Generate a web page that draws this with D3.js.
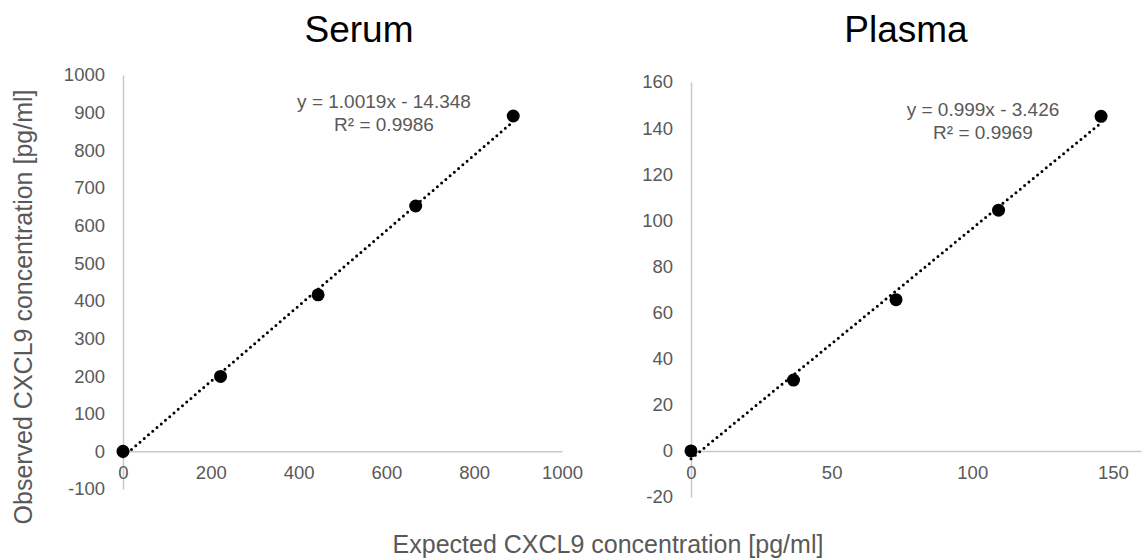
<!DOCTYPE html>
<html>
<head>
<meta charset="utf-8">
<script src="https://cdn.jsdelivr.net/npm/d3@7"></script>
<style>
  html, body { margin: 0; padding: 0; background: #fff; }
  svg { display: block; font-family: "Liberation Sans", Arial, sans-serif; }
</style>
</head>
<body>
<svg id="chart" width="1146" height="560"></svg>
<script>
// ---- Data ----
const serumExpected = [0, 222.2, 444.4, 666.7, 888.9];
const serumObserved = [0, 199, 416, 652, 891];
const serumTrend = [1.0019, -14.348];            // slope, intercept
const serumLabels = ["y = 1.0019x - 14.348", "R² = 0.9986"];
const serumXTicks = [0, 200, 400, 600, 800, 1000];
const serumYTicks = [-100, 0, 100, 200, 300, 400, 500, 600, 700, 800, 900, 1000];

const plasmaExpected = [0, 36.45, 72.9, 109.35, 145.8];
const plasmaObserved = [0, 30.7, 65.6, 104.4, 145.1];
const plasmaTrend = [0.999, -3.426];
const plasmaLabels = ["y = 0.999x - 3.426", "R² = 0.9969"];
const plasmaXTicks = [0, 50, 100, 150];
const plasmaYTicks = [-20, 0, 20, 40, 60, 80, 100, 120, 140, 160];

const titles = ["Serum", "Plasma"];
const xAxisTitle = "Expected CXCL9 concentration [pg/ml]";
const yAxisTitle = "Observed CXCL9 concentration [pg/ml]";

// ---- Layout ----
const svg = d3.select("#chart");
const grey = "#595959";
const axisColor = "#c8c8c8";
const fmt = d => String(d);   // plain hyphen-minus, as in the reference

const panels = [
  { title: titles[0], xs: serumExpected, ys: serumObserved, trend: serumTrend, labels: serumLabels,
    xTicks: serumXTicks, yTicks: serumYTicks,
    x: d3.scaleLinear().domain([0, 1000]).range([123, 562]),
    y: d3.scaleLinear().domain([-100, 1000]).range([489, 75]),
    titleX: 359, eqX: 384, eqY: 108 },
  { title: titles[1], xs: plasmaExpected, ys: plasmaObserved, trend: plasmaTrend, labels: plasmaLabels,
    xTicks: plasmaXTicks, yTicks: plasmaYTicks,
    x: d3.scaleLinear().domain([0, 160]).range([691, 1141]),
    y: d3.scaleLinear().domain([-20, 160]).range([497, 82]),
    titleX: 906, eqX: 983, eqY: 116 }
];

panels.forEach(p => {
  const g = svg.append("g");

  // y axis
  const yAx = g.append("g")
    .attr("transform", `translate(${p.x(0)},0)`)
    .call(d3.axisLeft(p.y).tickValues(p.yTicks).tickSize(0).tickPadding(18).tickFormat(fmt));
  yAx.select(".domain").attr("stroke", axisColor).attr("stroke-width", 1.5);
  yAx.selectAll("text").attr("fill", grey).style("font-size", "18.5px")
     .style("font-family", "Liberation Sans, Arial, sans-serif");

  // x axis at y = 0
  const xAx = g.append("g")
    .attr("transform", `translate(0,${p.y(0)})`)
    .call(d3.axisBottom(p.x).tickValues(p.xTicks).tickSize(0).tickPadding(15).tickFormat(fmt));
  xAx.select(".domain").attr("stroke", axisColor).attr("stroke-width", 1.5);
  xAx.selectAll("text").attr("fill", grey).style("font-size", "18.5px")
     .style("font-family", "Liberation Sans, Arial, sans-serif");

  // trendline
  const x0 = d3.min(p.xs), x1 = d3.max(p.xs);
  const trendPts = [x0, x1].map(v => [v, p.trend[0] * v + p.trend[1]]);
  g.append("path")
    .datum(trendPts)
    .attr("d", d3.line().x(d => p.x(d[0])).y(d => p.y(d[1])))
    .attr("fill", "none")
    .attr("stroke", "#000")
    .attr("stroke-width", 3)
    .attr("stroke-linecap", "round")
    .attr("stroke-dasharray", "0 5.6");

  // points
  g.selectAll("circle.pt")
    .data(p.xs.map((v, i) => [v, p.ys[i]]))
    .join("circle")
    .attr("class", "pt")
    .attr("cx", d => p.x(d[0]))
    .attr("cy", d => p.y(d[1]))
    .attr("r", 6.5)
    .attr("fill", "#000");

  // title
  g.append("text")
    .attr("x", p.titleX).attr("y", 42)
    .attr("text-anchor", "middle")
    .style("font-size", "37px")
    .attr("fill", "#000")
    .text(p.title);

  // equation label
  p.labels.forEach((t, i) => {
    g.append("text")
      .attr("x", p.eqX).attr("y", p.eqY + i * 22.5)
      .attr("text-anchor", "middle")
      .style("font-size", "19px")
      .attr("fill", grey)
      .text(t);
  });
});

// axis titles
svg.append("text")
  .attr("x", 608).attr("y", 553)
  .attr("text-anchor", "middle")
  .style("font-size", "25px")
  .attr("fill", grey)
  .text(xAxisTitle);

svg.append("text")
  .attr("transform", "translate(32,307) rotate(-90)")
  .attr("text-anchor", "middle")
  .style("font-size", "25px")
  .attr("fill", grey)
  .text(yAxisTitle);
</script>
</body>
</html>
